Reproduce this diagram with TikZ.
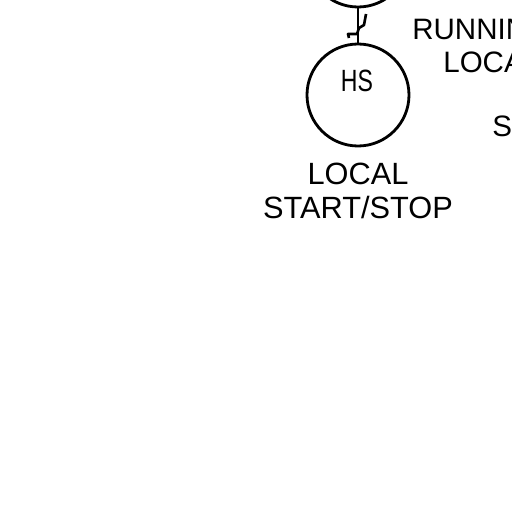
\documentclass[tikz,border=0pt]{standalone}
\usepackage{fontspec}
\setmainfont{Liberation Sans}
\usetikzlibrary{positioning}
\tikzset{instrument/.style={draw,circle,line width=1.6pt,minimum size=2.04cm,inner sep=0pt}}
\tikzset{tag/.style={font=\fontsize{17.5}{19.3}\selectfont,align=center,inner sep=0pt}}
\tikzset{sidetag/.style={tag,anchor=base west,font=\fontsize{16.8}{19}\selectfont}}

\begin{document}
\begin{tikzpicture}
	    \useasboundingbox (0,0) rectangle (10.24,10.24);
	    \clip (0,0) rectangle (10.24,10.24);
	    \node[instrument] (motor) at (7.16,11.12) {};
	    \node[instrument] (hs) at (7.16,8.34) {};
	    \node[tag,xscale=.75] (hstext) at (7.14,8.62) {HS};
	    \draw[line width=1.6pt] (motor) -- (hs);
	    % signal mark across the line
	    \coordinate (marka) at (7.32,9.96);
	    \coordinate (markb) at (7.14,9.56);
	    \coordinate (markc) at (6.98,9.48);
	    \draw[line width=1.5pt,line join=round] (marka) -- (7.28,9.74) -- (7.18,9.68) -- (markb) -- (6.96,9.56) -- (markc);
	    \node[tag,below=0.30cm of hs] (start) {LOCAL\\START/STOP};
	    \node[sidetag] (running) at (8.24,9.44) {RUNNIN};
	    \node[sidetag] (local) at (8.86,8.78) {LOCA};
	    \node[sidetag] (stop) at (9.84,7.50) {ST};
        \end{tikzpicture}
\end{document}
